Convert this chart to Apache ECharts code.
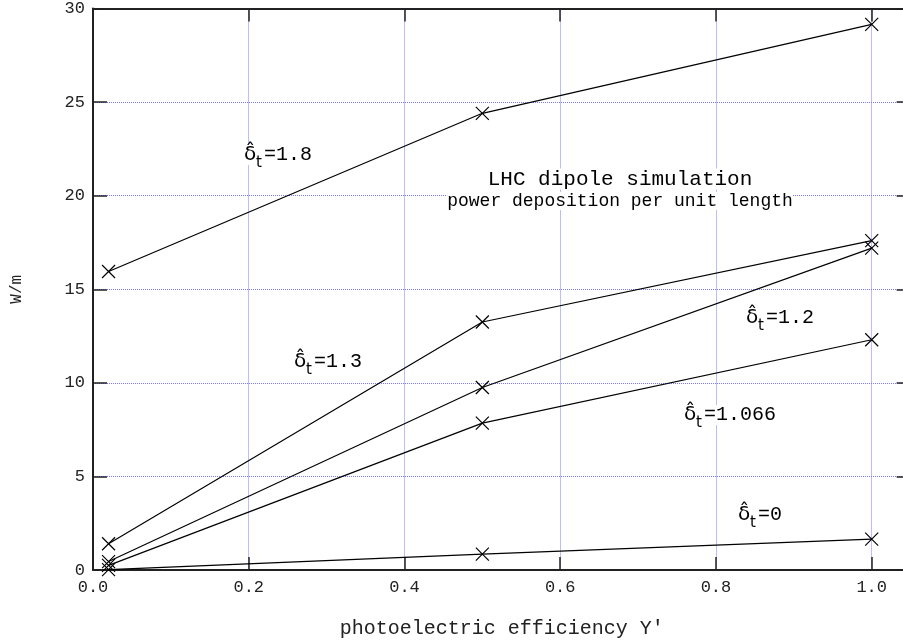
<!DOCTYPE html>
<html>
<head>
<meta charset="utf-8">
<script src="https://cdn.jsdelivr.net/npm/echarts@6/dist/echarts.min.js"></script>
<style>html,body{margin:0;padding:0;background:#fff;overflow:hidden}#c{width:920px;height:644px}</style>
</head>
<body>
<div id="c"></div>
<script>
// ---- data ----
const xValues = [0.02, 0.5, 1.0];
const delta18 = [15.95, 24.4, 29.15];
const delta13 = [1.4, 13.25, 17.6];
const delta12 = [0.45, 9.75, 17.2];
const delta1066 = [0.25, 7.85, 12.3];
const delta0 = [0.02, 0.85, 1.65];
const seriesNames = ['1.8', '1.3', '1.2', '1.066', '0'];
const xTicks = [0.0, 0.2, 0.4, 0.6, 0.8, 1.0];
const yTicks = [0, 5, 10, 15, 20, 25, 30];
const titleLine1 = 'LHC dipole simulation';
const titleLine2 = 'power deposition per unit length';
const xName = "photoelectric efficiency Y'";
const yName = 'W/m';

const FONT = '"Liberation Mono", "DejaVu Sans Mono", monospace';
const chart = echarts.init(document.getElementById('c'), null, {renderer: 'canvas'});

const allSeries = [delta18, delta13, delta12, delta1066, delta0];
const series = allSeries.map((vals, i) => ({
  name: seriesNames[i],
  type: 'line',
  xAxisIndex: 0, yAxisIndex: 0,
  data: vals.map((v, j) => [xValues[j], v]),
  symbol: 'path://M0,0L10,10M10,0L0,10',
  symbolSize: 13,
  showAllSymbol: true,
  clip: false,
  lineStyle: {color: '#000', width: 1.2},
  itemStyle: {color: '#000', borderColor: '#000', borderWidth: 1.2},
  emphasis: {disabled: true},
  z: 5
}));

const gridLeft = 93, gridTop = 7, pxPerX = 778.7, xMax = 1.05;
const gridW = pxPerX * xMax, gridH = 563.7;

function txt(x, y, text, size, family) {
  return {type: 'text', x: x, y: y, z: 20, silent: true,
    style: {text: text, fontSize: size, fontFamily: family, fill: '#000', align: 'left', verticalAlign: 'middle', backgroundColor: '#fff'}};
}
function deltaLabel(x0, yc, val) {
  return [
    txt(x0 + 19, yc, '=' + val, 20, FONT),
    txt(x0 - 1, yc, 'δ\u0302', 20, '"DejaVu Sans"'),
    txt(x0 + 11, yc + 8, 't', 15, '"DejaVu Sans"')
  ];
}

const labelPos = [[245, 155], [295, 362], [747, 318], [685, 415], [739, 515]];
let graphics = [
  {type: 'text', x: 620, y: 179, z: 20, silent: true, style: {text: titleLine1, fontSize: 21, fontFamily: FONT, fill: '#000', align: 'center', verticalAlign: 'middle', backgroundColor: '#fff'}},
  {type: 'text', x: 620, y: 201, z: 20, silent: true, style: {text: titleLine2, fontSize: 18, fontFamily: FONT, fill: '#000', align: 'center', verticalAlign: 'middle', backgroundColor: '#fff'}}
];
labelPos.forEach((p, i) => { graphics = graphics.concat(deltaLabel(p[0], p[1], seriesNames[i])); });

const option = {
  backgroundColor: '#fff',
  animation: false,
  grid: {left: gridLeft, top: gridTop, width: gridW, height: gridH, containLabel: false},
  xAxis: [{
    type: 'value', min: 0, max: xMax, interval: 0.2, position: 'bottom',
    axisLine: {show: true, onZero: false, lineStyle: {color: '#222', width: 2}},
    axisTick: {show: true, inside: true, length: 13, lineStyle: {color: '#222', width: 1.5}},
    axisLabel: {show: true, showMaxLabel: false, margin: 9, color: '#222', fontFamily: FONT, fontSize: 17,
      formatter: v => xTicks.some(t => Math.abs(t - v) < 1e-9) ? v.toFixed(1) : ''},
    splitLine: {show: true, lineStyle: {color: '#7a7aff', type: 'dotted', width: 1}},
    name: xName, nameLocation: 'middle', nameGap: 49,
    nameTextStyle: {color: '#222', fontFamily: FONT, fontSize: 20}
  }, {
    type: 'value', min: 0, max: xMax, interval: 0.2, position: 'top',
    axisLine: {show: true, onZero: false, lineStyle: {color: '#222', width: 2}},
    axisTick: {show: true, inside: true, length: 13, lineStyle: {color: '#222', width: 1.5}},
    axisLabel: {show: false}, splitLine: {show: false}
  }],
  yAxis: [{
    type: 'value', min: 0, max: 30, interval: 5, position: 'left',
    axisLine: {show: true, onZero: false, lineStyle: {color: '#222', width: 2}},
    axisTick: {show: true, inside: true, length: 14, lineStyle: {color: '#222', width: 1.5}},
    axisLabel: {show: true, margin: 8, color: '#222', fontFamily: FONT, fontSize: 17,
      formatter: v => yTicks.includes(v) ? String(v) : ''},
    splitLine: {show: true, lineStyle: {color: '#7a7aff', type: 'dotted', width: 1}},
    name: yName, nameLocation: 'middle', nameGap: 68, nameRotate: 90,
    nameTextStyle: {color: '#222', fontFamily: FONT, fontSize: 16}
  }, {
    type: 'value', min: 0, max: 30, interval: 5, position: 'right',
    axisLine: {show: true, onZero: false, lineStyle: {color: '#222', width: 2}},
    axisTick: {show: true, inside: true, length: 14, lineStyle: {color: '#222', width: 1.5}},
    axisLabel: {show: false}, splitLine: {show: false}
  }],
  series: series,
  graphic: graphics
};
chart.setOption(option);
</script>
</body>
</html>
